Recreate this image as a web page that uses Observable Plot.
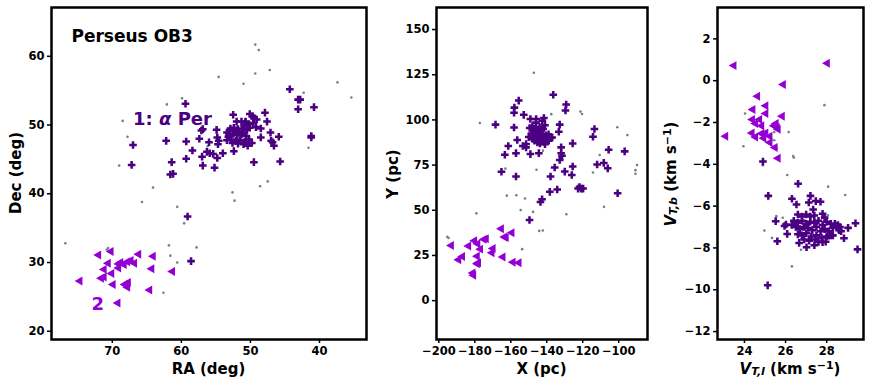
<!DOCTYPE html>
<html>
<head>
<meta charset="utf-8">
<script src="https://cdn.jsdelivr.net/npm/d3@7"></script>
<script src="https://cdn.jsdelivr.net/npm/@observablehq/plot@0.6"></script>
<style>
  html, body { margin: 0; padding: 0; background: #fff; }
  #chart { position: relative; width: 872px; height: 389px; overflow: hidden; }
  #chart svg { position: absolute; top: 0; }
</style>
</head>
<body>
<div id="chart"></div>
<script>
// ---------------- DATA ----------------
// Panel 1: RA (deg), Dec (deg)
const p1Group1 = [
  [59.4,53.1],[59.1,36.7],[58.6,30.2],[67.0,47.1],[67.2,44.2],[62.2,47.7],[61.4,44.6],[61.6,42.8],[61.2,42.9],
  [59.3,47.6],[59.3,45.1],[58.4,46.3],[57.4,48.0],[57.1,49.2],[56.9,49.4],[57.0,45.4],[56.9,44.1],[56.3,46.1],
  [56.0,47.5],[55.9,45.9],[55.4,45.8],[55.2,43.8],[54.9,49.3],[54.8,48.2],[54.7,47.2],[54.8,45.2],[54.6,47.7],
  [54.0,45.9],[53.4,48.9],[53.2,48.3],[52.5,51.5],[52.4,46.2],[50.1,51.6],[50.7,50.5],[50.2,50.1],[49.7,51.3],
  [49.5,51.0],[50.2,47.4],[49.5,44.6],[49.2,49.7],[47.9,51.8],[47.6,50.5],[48.5,48.2],[47.1,48.9],[46.8,47.5],
  [46.6,47.0],[45.9,48.3],[45.7,44.7],[44.3,55.2],[43.1,53.7],[42.8,53.7],[43.1,52.3],[40.8,52.6],[41.2,48.2],
  [41.2,48.4],
  [52.0,50.5],[51.3,50.5],[50.7,50.4],[49.6,50.3],[49.1,50.8],[52.9,49.5],[52.4,49.6],[51.8,49.4],[51.2,49.5],
  [50.5,49.3],[50.1,49.6],[53.1,48.6],[52.5,48.7],[51.9,48.5],[51.3,48.6],[50.6,48.4],[53.4,47.8],[52.8,47.9],
  [52.1,47.7],[51.5,47.8],[50.8,47.6],[50.2,47.9],[52.6,47.4],[51.8,47.3],[51.0,47.2],[50.4,47.0],[49.8,47.4],
  [48.5,49.5],[47.0,47.7],[52.2,49.0],[51.6,49.0],[51.0,48.9],[50.9,49.9],[53.0,49.2]
];
const p1Group2 = [
  [74.8,27.3],[72.1,31.1],[70.3,31.6],[71.3,29.0],[70.7,29.9],[71.7,27.7],[71.3,27.9],[70.0,26.8],[70.2,28.4],
  [69.2,29.8],[69.2,29.2],[68.9,30.0],[68.4,29.7],[67.9,30.1],[67.4,30.3],[66.9,29.9],[66.3,31.2],[68.3,26.8],
  [67.8,27.1],[67.9,26.4],[69.3,24.1],[64.4,29.1],[64.2,30.9],[64.7,26.0],[61.4,28.7]
];
const p1Field = [
  [49.3,61.7],[48.8,60.9],[47.2,58.0],[49.3,57.5],[54.6,57.0],[51.0,56.0],[37.4,56.2],[35.4,54.0],[42.3,54.7],
  [59.9,53.9],[62.1,53.0],[68.5,50.6],[67.8,48.3],[69.0,44.1],[64.1,40.9],[65.7,38.8],[60.6,38.1],[59.6,35.7],
  [52.6,40.2],[52.3,39.0],[47.5,41.8],[48.6,41.1],[41.6,46.7],[76.8,32.8],[70.6,32.1],[70.8,31.9],[61.8,32.5],
  [61.6,31.0],[57.8,32.2],[60.6,30.0],[62.6,25.6],[56.2,46.9],[51.6,47.9]
];
// Panel 2: X (pc), Y (pc)
const p2Group1 = [
  [-136.4,113.9],[-129.2,108.5],[-129.6,105.2],[-155.6,110.7],[-158.0,106.8],[-158.2,104.0],[-152.8,102.8],
  [-168.5,97.4],[-158.2,95.8],[-156.4,88.9],[-161.4,85.6],[-163.3,80.7],[-157.1,81.6],[-165.2,71.3],[-157.1,68.7],
  [-149.1,100.5],[-145.9,100.5],[-141.6,101.0],[-149.1,81.1],[-144.4,81.6],[-153.3,85.6],[-151.5,86.7],[-151.5,84.8],
  [-132.8,97.4],[-133.3,93.5],[-137.0,90.3],[-138.9,88.5],[-132.0,84.8],[-132.0,81.5],[-131.5,80.2],[-132.8,77.8],
  [-135.6,73.7],[-130.0,71.4],[-137.9,68.7],[-134.2,61.5],[-138.3,60.2],[-142.6,56.1],[-143.5,54.6],[-149.6,44.6],
  [-125.6,87.0],[-125.6,74.2],[-126.1,69.5],[-121.8,62.9],[-120.9,62.0],[-119.8,62.0],[-122.6,62.0],[-113.5,95.0],
  [-114.3,90.7],[-112.0,75.3],[-108.3,76.2],[-106.1,73.2],[-105.6,83.5],[-96.7,82.6],[-100.6,59.4],
  [-149.5,95.5],[-148.0,96.5],[-147.0,94.0],[-146.0,95.8],[-145.0,93.5],[-144.0,96.0],[-143.0,94.2],[-142.0,95.0],
  [-141.0,97.0],[-148.5,92.5],[-147.5,91.0],[-146.5,92.8],[-145.5,90.5],[-144.5,91.8],[-143.5,89.5],[-142.5,92.0],
  [-141.5,90.0],[-140.5,91.5],[-139.5,89.0],[-146.8,88.5],[-145.2,87.5],[-143.8,87.0],[-142.2,88.0],[-140.8,88.5],
  [-144.8,89.0],[-147.8,89.5],[-139.0,92.0],[-141.0,86.5],[-138.0,90.0],[-150.0,90.5],[-146.0,98.5],[-142.5,99.5]
];
const p2Group2 = [
  [-193.5,30.5],[-189.4,22.6],[-187.3,24.4],[-183.9,30.2],[-180.6,33.1],[-178.8,31.5],[-177.3,28.5],[-175.3,33.9],
  [-174.1,34.2],[-179.1,24.6],[-179.1,20.4],[-178.4,21.0],[-181.5,15.3],[-181.1,14.0],[-170.3,28.9],[-170.9,26.5],
  [-165.7,39.8],[-163.9,35.2],[-163.0,34.9],[-159.8,37.6],[-164.8,24.2],[-159.2,21.3],[-155.9,21.0]
];
const p2Field = [
  [-147.2,126.1],[-195.3,35.3],[-194.6,34.7],[-177.2,98.3],[-179.1,48.3],[-162.2,58.1],[-156.9,58.3],[-152.1,56.5],
  [-154.5,50.1],[-147.6,49.1],[-145.7,72.4],[-144.2,38.6],[-142.2,38.8],[-153.7,28.5],[-158.3,81.4],[-163.0,73.1],
  [-137.5,103.2],[-121.3,104.6],[-120.4,103.3],[-129.1,47.8],[-110.6,80.6],[-114.3,70.9],[-108.2,51.9],[-100.8,95.9],
  [-95.2,91.6],[-89.8,75.0],[-90.7,72.2],[-90.7,70.2],[-142.1,83.0]
];
// Panel 3: V_T,l (km/s), V_T,b (km/s)
const p3Group1 = [
  [24.9,-3.87],[26.61,-4.93],[25.16,-5.51],[26.31,-5.65],[26.53,-5.92],[27.21,-5.51],[27.13,-5.83],[27.47,-5.76],
  [27.7,-5.79],[27.34,-6.16],[27.8,-6.37],[25.52,-6.72],[26.02,-6.88],[26.08,-7.33],[25.6,-7.68],[26.66,-7.76],
  [27.02,-7.97],[27.4,-7.87],[27.6,-7.71],[27.8,-7.72],[27.95,-7.7],[29.4,-6.82],[29.5,-8.07],[29.04,-7.04],
  [28.84,-7.54],[28.4,-6.85],[28.55,-6.9],[28.65,-7.0],[28.7,-7.2],[28.3,-7.4],[28.1,-7.42],[25.95,-6.95],[25.13,-9.79],
  [26.6,-6.4],[26.8,-6.5],[27.0,-6.4],[27.2,-6.5],[27.4,-6.45],[26.4,-6.7],[26.6,-6.8],[26.8,-6.7],[27.0,-6.85],
  [27.2,-6.75],[27.4,-6.8],[27.6,-6.7],[27.8,-6.9],[28.0,-6.75],[28.2,-6.85],[26.5,-7.0],[26.7,-7.1],[26.9,-7.0],
  [27.1,-7.05],[27.3,-7.15],[27.5,-7.0],[27.7,-7.2],[27.9,-7.1],[28.1,-7.2],[28.3,-7.05],[26.6,-7.35],[26.8,-7.4],
  [27.0,-7.3],[27.25,-7.45],[27.5,-7.4],[27.75,-7.5],[28.0,-7.45],[28.2,-7.4],[26.9,-7.6],[27.15,-7.65],[27.45,-7.6],
  [26.3,-6.9],[27.9,-6.55],[28.5,-6.95],[28.6,-7.15]
];
const p3Group2 = [
  [23.45,0.72],[27.99,0.83],[23.05,-2.66],[25.85,-0.18],[24.6,-0.74],[24.37,-1.38],[25.0,-1.2],[25.0,-1.57],
  [24.35,-1.86],[24.5,-2.05],[24.7,-1.86],[24.8,-2.16],[24.33,-2.5],[24.5,-2.69],[24.8,-2.53],[25.0,-2.5],
  [24.9,-2.75],[25.2,-2.96],[25.4,-2.16],[25.5,-2.05],[25.55,-2.24],[25.6,-2.32],[25.8,-1.7],[25.45,-3.2],
  [25.6,-3.71],[25.2,-2.66]
];
const p3Field = [
  [27.89,-1.17],[24.03,-1.57],[23.95,-3.14],[26.15,-2.46],[25.45,-2.46],[26.37,-3.6],[26.4,-3.68],[25.45,-2.85],
  [25.57,-3.23],[24.89,-4.04],[26.08,-4.51],[28.07,-5.07],[28.9,-5.47],[28.06,-6.44],[25.55,-6.48],[25.86,-6.56],
  [24.97,-7.17],[25.34,-7.52],[26.75,-8.09],[26.31,-8.88],[27.34,-7.6]
];
// Tick labels
const p1XTicks = [40, 50, 60, 70];
const p1YTicks = [20, 30, 40, 50, 60];
const p2XTicks = [-200, -180, -160, -140, -120, -100];
const p2YTicks = [0, 25, 50, 75, 100, 125, 150];
const p3XTicks = [24, 26, 28];
const p3YTicks = [-12, -10, -8, -6, -4, -2, 0, 2];

// ---------------- STYLE ----------------
const C1 = "#4b0082";   // group 1 (alpha Per)
const C2 = "#9400d3";   // group 2
const CF = "#708090";   // field
const FONT = "DejaVu Sans, sans-serif";

const triLeft = {
  draw(ctx, size) {
    const r = Math.sqrt(size / Math.PI);
    ctx.moveTo(-1.15 * r, 0);
    ctx.lineTo(0.85 * r, -1.15 * r);
    ctx.lineTo(0.85 * r, 1.15 * r);
    ctx.closePath();
  }
};

const chart = document.getElementById("chart");

function makePanel({left, width, ml, mr, xdom, ydom, xticks, yticks, g1, g2, field, extra = []}) {
  const svg = Plot.plot({
    width, height: 389,
    marginLeft: ml, marginRight: mr, marginTop: 7, marginBottom: 50,
    style: {fontFamily: FONT, fontSize: "11.5px", fontWeight: "bold", color: "black", background: "white"},
    x: {domain: xdom, label: null},
    y: {domain: ydom, label: null},
    marks: [
      Plot.axisX(xticks, {tickSize: 4, strokeWidth: 1.5, tickPadding: 3, label: null}),
      Plot.axisY(yticks, {tickSize: 4, strokeWidth: 1.5, tickPadding: 3, label: null}),
      Plot.dot(field, {x: d => d[0], y: d => d[1], r: 1.3, fill: CF, stroke: null}),
      Plot.dot(g1, {x: d => d[0], y: d => d[1], symbol: "cross", r: 3.2, fill: C1}),
      Plot.dot(g2, {x: d => d[0], y: d => d[1], symbol: triLeft, r: 3.9, fill: C2}),
      ...extra,
      Plot.frame({stroke: "black", strokeWidth: 2.5})
    ]
  });
  svg.style.left = left + "px";
  chart.appendChild(svg);
  return d3.select(svg);
}

function addLabel(sel, x, y, rotate, parts) {
  const t = sel.append("text")
    .attr("transform", `translate(${x},${y}) rotate(${rotate})`)
    .attr("text-anchor", "middle")
    .attr("dominant-baseline", "central")
    .attr("font-family", FONT)
    .attr("font-size", 15)
    .attr("font-weight", "bold")
    .attr("fill", "black");
  for (const p of parts) {
    const s = t.append("tspan").text(p.t);
    if (p.italic) s.attr("font-style", "italic");
    if (p.size) s.attr("font-size", p.size);
    if (p.shift) s.attr("baseline-shift", p.shift);
  }
  return t;
}

// Panel 1
const s1 = makePanel({
  left: 0, width: 370, ml: 51, mr: 4,
  xdom: [78.8, 33.2], ydom: [18.8, 67.1],
  xticks: p1XTicks, yticks: p1YTicks,
  g1: p1Group1, g2: p1Group2, field: p1Field,
  extra: [
    Plot.text(["Perseus OB3"], {frameAnchor: "top-left", dx: 20, dy: 22, textAnchor: "start",
      fontSize: 17, fontWeight: "bold", fill: "black"}),
    Plot.text([{x: 67.0, y: 50.9, t: "1: α Per"}], {x: "x", y: "y", text: "t", textAnchor: "start",
      fontSize: 18, fontWeight: "bold", fill: C1}),
    Plot.text([{x: 72.1, y: 23.9, t: "2"}], {x: "x", y: "y", text: "t",
      fontSize: 18, fontWeight: "bold", fill: C2})
  ]
});
s1.selectAll("text").filter(function() { return this.textContent === "1: α Per"; })
  .each(function() {
    const el = d3.select(this);
    el.text(null);
    el.append("tspan").text("1: ");
    el.append("tspan").attr("font-style", "italic").text("α");
    el.append("tspan").text(" Per");
  });
addLabel(s1, 16, 173, -90, [{t: "Dec (deg)"}]);
addLabel(s1, 208.5, 369, 0, [{t: "RA (deg)"}]);

// Panel 2
const s2 = makePanel({
  left: 370, width: 280, ml: 66, mr: 3,
  xdom: [-201.3, -84], ydom: [-21.5, 162.2],
  xticks: p2XTicks, yticks: p2YTicks,
  g1: p2Group1, g2: p2Group2, field: p2Field
});
addLabel(s2, 23, 174, -90, [{t: "Y (pc)"}]);
addLabel(s2, 171.5, 369, 0, [{t: "X (pc)"}]);

// Panel 3
const s3 = makePanel({
  left: 650, width: 222, ml: 67, mr: 9,
  xdom: [22.69, 29.79], ydom: [-12.38, 3.5],
  xticks: p3XTicks, yticks: p3YTicks,
  g1: p3Group1, g2: p3Group2, field: p3Field
});
addLabel(s3, 20.5, 174, -90, [
  {t: "V", italic: true}, {t: "T,b", italic: true, size: 11, shift: "-25%"},
  {t: " (km s"}, {t: "−1", size: 11, shift: "35%"}, {t: ")"}
]);
addLabel(s3, 140, 369, 0, [
  {t: "V", italic: true}, {t: "T,l", italic: true, size: 11, shift: "-25%"},
  {t: " (km s"}, {t: "−1", size: 11, shift: "35%"}, {t: ")"}
]);
</script>
</body>
</html>
